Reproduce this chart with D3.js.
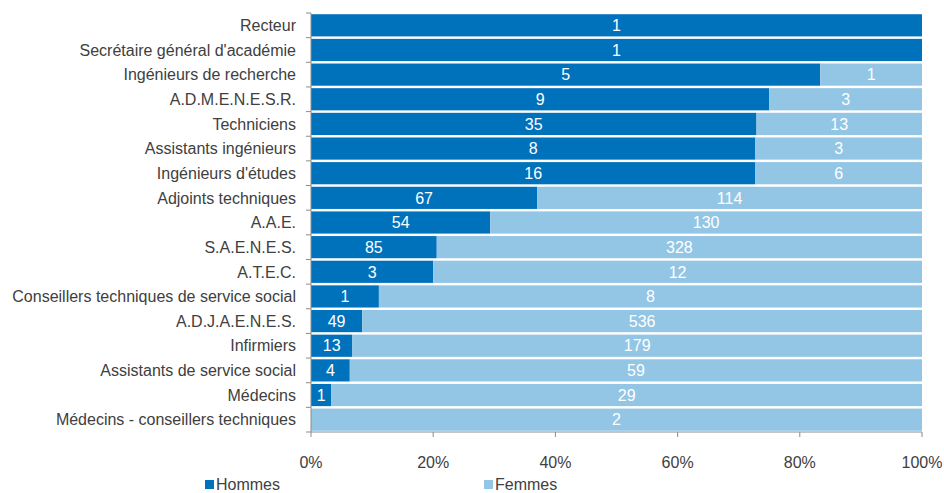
<!DOCTYPE html>
<html>
<head>
<meta charset="utf-8">
<script src="https://cdn.jsdelivr.net/npm/d3@7"></script>
<style>
  body { margin: 0; background: #fff; }
  text { font-family: "Liberation Sans", Arial, sans-serif; }
</style>
</head>
<body>
<svg id="chart" width="944" height="493"></svg>
<script>
let categories = [
  'Recteur',
  "Secrétaire général d'académie",
  'Ingénieurs de recherche',
  'A.D.M.E.N.E.S.R.',
  'Techniciens',
  'Assistants ingénieurs',
  "Ingénieurs d'études",
  'Adjoints techniques',
  'A.A.E.',
  'S.A.E.N.E.S.',
  'A.T.E.C.',
  'Conseillers techniques de service social',
  'A.D.J.A.E.N.E.S.',
  'Infirmiers',
  'Assistants de service social',
  'Médecins',
  'Médecins - conseillers techniques'
];
let hommes = [1, 1, 5, 9, 35, 8, 16, 67, 54, 85, 3, 1, 49, 13, 4, 1, 0];
let femmes = [0, 0, 1, 3, 13, 3, 6, 114, 130, 328, 12, 8, 536, 179, 59, 29, 2];
let tickValues = [0, 0.2, 0.4, 0.6, 0.8, 1];
let seriesNames = ['Hommes', 'Femmes'];
let colors = ['#0072bc', '#93c5e5'];

let margins = { top: 13, right: 22, bottom: 61, left: 311 };
let width = 944, height = 493;
let fontSize = '16px';

let $svg = d3.select('#chart');

let rows = categories.map((c, i) => {
  let total = hommes[i] + femmes[i];
  return { cat: c, h: hommes[i], f: femmes[i], total: total };
});

let x = d3.scaleLinear()
  .domain([0, 1])
  .range([margins.left, width - margins.right]);

let y = d3.scaleBand()
  .domain(categories)
  .range([margins.top, height - margins.bottom])
  .paddingInner(0.1)
  .paddingOuter(0.05);

let $g = $svg.append('g');

// segments
let segs = [];
rows.forEach(r => {
  let hs = r.h / r.total;
  segs.push({ cat: r.cat, x0: 0, x1: hs, val: r.h, s: 0 });
  segs.push({ cat: r.cat, x0: hs, x1: 1, val: r.f, s: 1 });
});

$g.selectAll('.bar')
  .data(segs.filter(d => d.val > 0))
  .enter()
  .append('rect')
  .attr('x', d => x(d.x0))
  .attr('width', d => x(d.x1) - x(d.x0))
  .attr('y', d => y(d.cat))
  .attr('height', y.bandwidth())
  .attr('fill', d => colors[d.s]);

$g.selectAll('.lbl')
  .data(segs.filter(d => d.val > 0))
  .enter()
  .append('text')
  .attr('x', d => (x(d.x0) + x(d.x1)) / 2)
  .attr('y', d => y(d.cat) + y.bandwidth() / 2)
  .attr('dy', '0.36em')
  .attr('text-anchor', 'middle')
  .attr('fill', '#fff')
  .style('font-size', fontSize)
  .text(d => d.val);

// y axis: line + ticks at row boundaries
let yTop = margins.top, yBot = height - margins.bottom;
let axisColor = '#8c8c8c';

$g.append('line')
  .attr('x1', x(0)).attr('x2', x(0))
  .attr('y1', yTop).attr('y2', yBot)
  .attr('stroke', axisColor);

let bounds = d3.range(categories.length + 1).map(i => yTop + (yBot - yTop) * i / categories.length);
$g.selectAll('.ytick')
  .data(bounds)
  .enter()
  .append('line')
  .attr('x1', x(0) - 5).attr('x2', x(0))
  .attr('y1', d => d).attr('y2', d => d)
  .attr('stroke', axisColor);

$g.selectAll('.ylab')
  .data(categories)
  .enter()
  .append('text')
  .attr('x', x(0) - 15)
  .attr('y', d => y(d) + y.bandwidth() / 2)
  .attr('dy', '0.36em')
  .attr('text-anchor', 'end')
  .attr('fill', '#404040')
  .style('font-size', fontSize)
  .text(d => d);

// x axis
$g.append('line')
  .attr('x1', x(0)).attr('x2', x(1))
  .attr('y1', yBot).attr('y2', yBot)
  .attr('stroke', axisColor);

$g.selectAll('.xtick')
  .data(tickValues)
  .enter()
  .append('line')
  .attr('x1', d => x(d)).attr('x2', d => x(d))
  .attr('y1', yBot).attr('y2', yBot + 5)
  .attr('stroke', axisColor);

$g.selectAll('.xlab')
  .data(tickValues)
  .enter()
  .append('text')
  .attr('x', d => x(d))
  .attr('y', yBot + 36)
  .attr('text-anchor', 'middle')
  .attr('fill', '#404040')
  .style('font-size', fontSize)
  .text(d => d3.format('.0%')(d));

// legend
let legendX = [205, 484];
let $leg = $g.selectAll('.leg')
  .data(seriesNames)
  .enter()
  .append('g')
  .attr('transform', (d, i) => `translate(${legendX[i]}, 484)`);

$leg.append('rect')
  .attr('x', 0).attr('y', -4)
  .attr('width', 9).attr('height', 9)
  .attr('fill', (d, i) => colors[i]);

$leg.append('text')
  .attr('x', 11)
  .attr('y', 0)
  .attr('dy', '0.36em')
  .attr('fill', '#404040')
  .style('font-size', fontSize)
  .text(d => d);
</script>
</body>
</html>
